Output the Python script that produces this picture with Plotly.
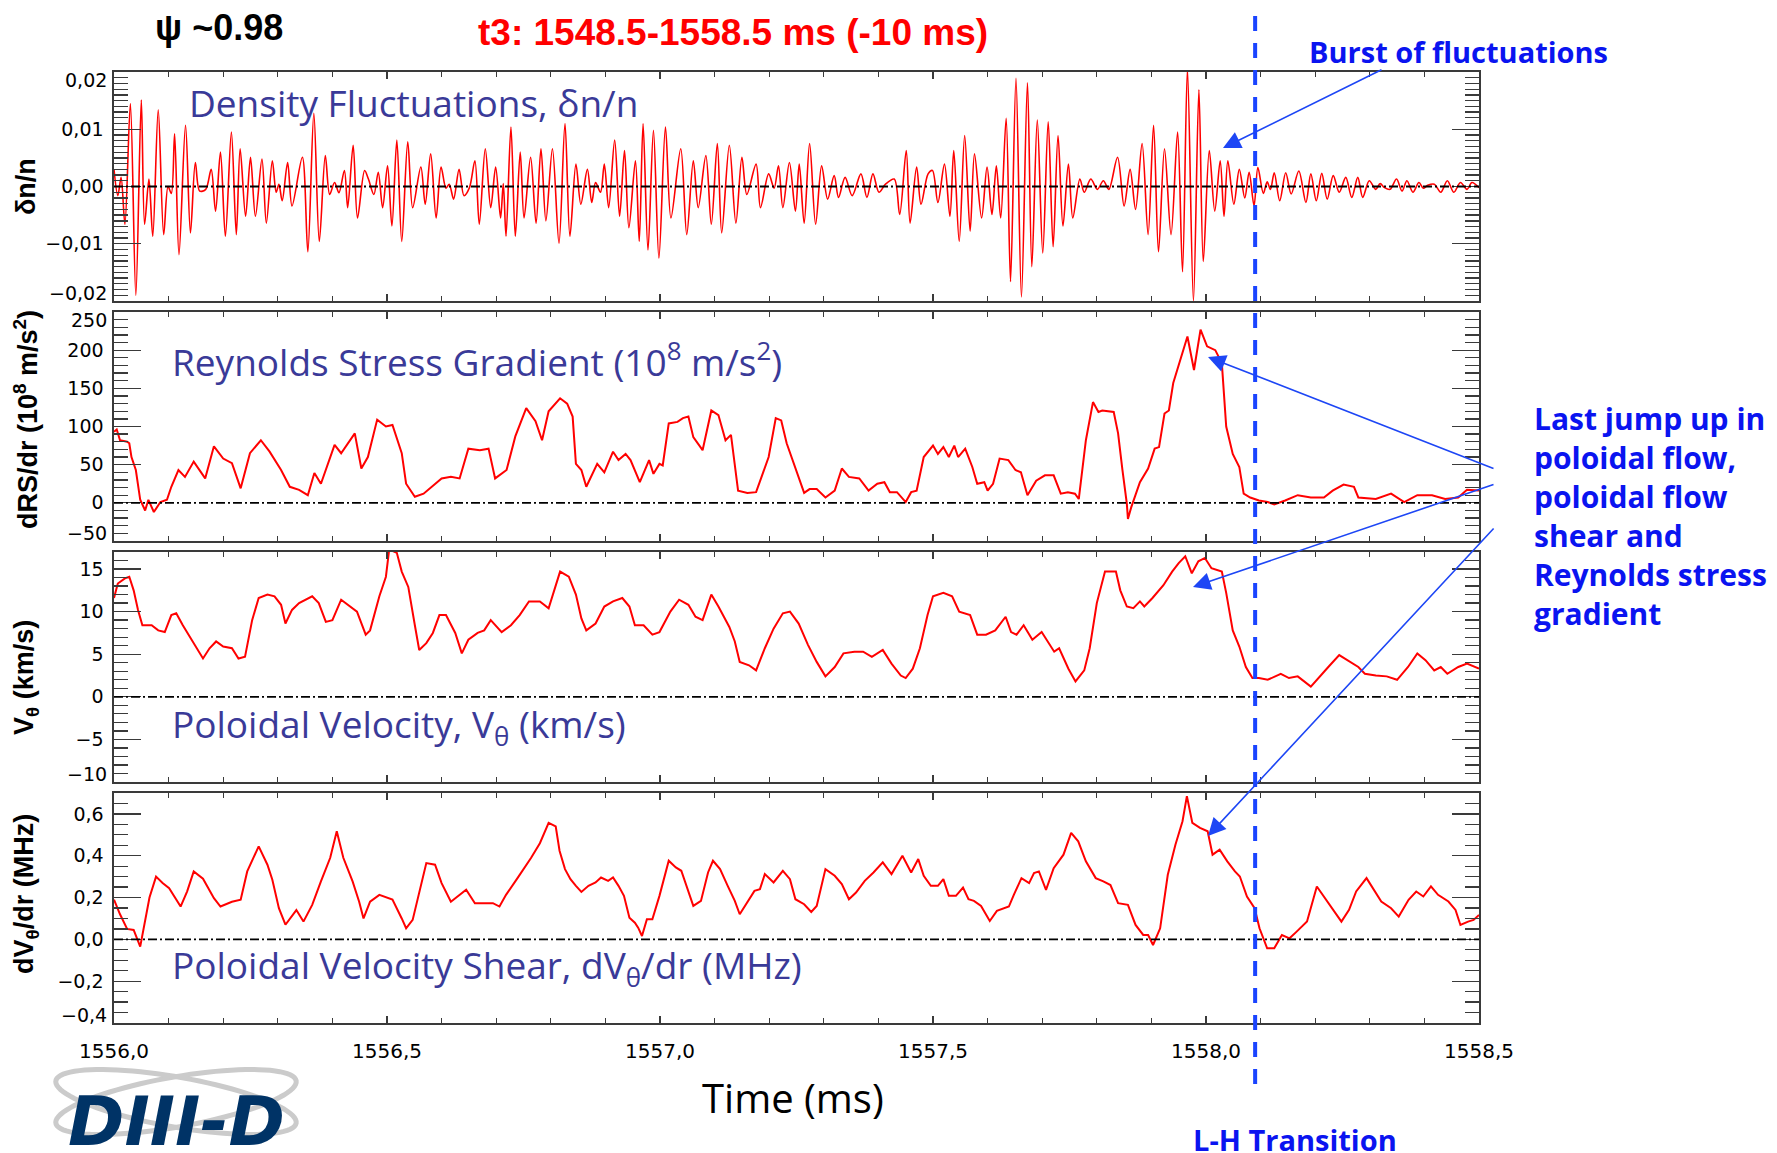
import numpy as np
import plotly.graph_objects as go

# ---------------------------------------------------------------- data
# Time axis (ms) and tick labels
T_START, T_END = 1556.0, 1558.5
X_TICKS = [1556.0, 1556.5, 1557.0, 1557.5, 1558.0, 1558.5]
X_LABELS = ["1556,0", "1556,5", "1557,0", "1557,5", "1558,0", "1558,5"]
LH_TIME = 1558.09  # L-H transition

# density fluctuations dn/n : (time ms, value) at the turning points of the signal
DN_SAMPLES = [
    (1556.000, 0.0030), (1556.007, -0.0016), (1556.013, 0.0016), (1556.020, -0.0066), (1556.030, 0.0145),
    (1556.040, -0.0190), (1556.050, 0.0151), (1556.056, -0.0066), (1556.064, 0.0013), (1556.071, -0.0087),
    (1556.081, 0.0134), (1556.091, -0.0084), (1556.099, 0.0000), (1556.105, -0.0012), (1556.111, 0.0092),
    (1556.119, -0.0119), (1556.131, 0.0107), (1556.140, -0.0081), (1556.149, 0.0042), (1556.157, -0.0008),
    (1556.168, -0.0005), (1556.178, 0.0030), (1556.186, -0.0043), (1556.195, 0.0060), (1556.204, -0.0087),
    (1556.215, 0.0095), (1556.224, -0.0084), (1556.231, 0.0066), (1556.241, -0.0052), (1556.250, 0.0051),
    (1556.259, -0.0052), (1556.271, 0.0048), (1556.279, -0.0064), (1556.290, 0.0045), (1556.297, -0.0010),
    (1556.302, 0.0004), (1556.308, -0.0025), (1556.318, 0.0042), (1556.326, -0.0034), (1556.345, 0.0051),
    (1556.355, -0.0114), (1556.366, 0.0128), (1556.376, -0.0096), (1556.387, 0.0054), (1556.395, -0.0014),
    (1556.404, 0.0007), (1556.412, -0.0011), (1556.422, 0.0028), (1556.428, -0.0037), (1556.438, 0.0072),
    (1556.446, -0.0055), (1556.459, 0.0028), (1556.466, 0.0013), (1556.476, -0.0014), (1556.484, 0.0025),
    (1556.492, -0.0037), (1556.501, 0.0036), (1556.509, -0.0069), (1556.518, 0.0081), (1556.527, -0.0096),
    (1556.538, 0.0078), (1556.547, -0.0037), (1556.562, 0.0034), (1556.570, -0.0031), (1556.580, 0.0057),
    (1556.590, -0.0055), (1556.599, 0.0034), (1556.608, -0.0003), (1556.614, 0.0004), (1556.622, -0.0022),
    (1556.632, 0.0030), (1556.641, -0.0016), (1556.651, -0.0002), (1556.661, 0.0045), (1556.669, -0.0066),
    (1556.680, 0.0066), (1556.690, -0.0037), (1556.699, 0.0034), (1556.708, -0.0055), (1556.713, 0.0005),
    (1556.718, -0.0087), (1556.727, 0.0104), (1556.735, -0.0087), (1556.744, 0.0060), (1556.751, -0.0055),
    (1556.763, 0.0051), (1556.773, -0.0064), (1556.782, 0.0066), (1556.791, -0.0060), (1556.803, 0.0066),
    (1556.815, -0.0099), (1556.826, 0.0110), (1556.835, -0.0087), (1556.846, 0.0039), (1556.855, -0.0031),
    (1556.867, 0.0030), (1556.875, -0.0028), (1556.882, 0.0007), (1556.891, -0.0010), (1556.898, 0.0039),
    (1556.906, -0.0037), (1556.917, 0.0081), (1556.926, -0.0052), (1556.935, 0.0063), (1556.943, -0.0072),
    (1556.955, 0.0045), (1556.962, -0.0096), (1556.969, 0.0110), (1556.978, -0.0111), (1556.988, 0.0098),
    (1556.998, -0.0125), (1557.010, 0.0104), (1557.020, -0.0055), (1557.038, 0.0066), (1557.049, -0.0084),
    (1557.061, 0.0045), (1557.070, -0.0037), (1557.084, 0.0054), (1557.094, -0.0066), (1557.105, 0.0075),
    (1557.113, -0.0081), (1557.127, 0.0072), (1557.139, -0.0064), (1557.150, 0.0051), (1557.159, -0.0014),
    (1557.176, 0.0039), (1557.184, -0.0037), (1557.199, 0.0022), (1557.209, -0.0003), (1557.217, 0.0036),
    (1557.225, -0.0037), (1557.237, 0.0042), (1557.248, -0.0043), (1557.255, 0.0039), (1557.264, -0.0064),
    (1557.274, 0.0075), (1557.285, -0.0066), (1557.296, 0.0036), (1557.307, -0.0022), (1557.319, 0.0019),
    (1557.327, -0.0019), (1557.339, 0.0016), (1557.352, -0.0016), (1557.368, 0.0022), (1557.379, -0.0019),
    (1557.390, 0.0022), (1557.401, -0.0010), (1557.413, 0.0004), (1557.429, 0.0013), (1557.439, -0.0049),
    (1557.451, 0.0063), (1557.458, -0.0064), (1557.470, 0.0034), (1557.478, -0.0031), (1557.491, 0.0022),
    (1557.499, 0.0028), (1557.509, -0.0028), (1557.521, 0.0039), (1557.531, -0.0052), (1557.538, 0.0063),
    (1557.548, -0.0096), (1557.558, 0.0089), (1557.568, -0.0078), (1557.576, 0.0057), (1557.589, -0.0055),
    (1557.599, 0.0034), (1557.608, -0.0049), (1557.616, 0.0036), (1557.624, -0.0055), (1557.634, 0.0119),
    (1557.642, -0.0166), (1557.652, 0.0189), (1557.662, -0.0193), (1557.673, 0.0181), (1557.681, -0.0140),
    (1557.691, 0.0116), (1557.701, -0.0116), (1557.711, 0.0113), (1557.720, -0.0105), (1557.729, 0.0089),
    (1557.738, -0.0069), (1557.748, 0.0039), (1557.756, -0.0055), (1557.769, 0.0013), (1557.777, -0.0010),
    (1557.789, 0.0013), (1557.801, -0.0005), (1557.812, 0.0010), (1557.822, -0.0005), (1557.838, 0.0051),
    (1557.850, -0.0034), (1557.861, 0.0030), (1557.871, -0.0040), (1557.883, 0.0075), (1557.894, -0.0084),
    (1557.904, 0.0107), (1557.913, -0.0114), (1557.924, 0.0066), (1557.936, -0.0084), (1557.948, 0.0095),
    (1557.957, -0.0149), (1557.966, 0.0205), (1557.977, -0.0200), (1557.987, 0.0169), (1557.995, -0.0131),
    (1558.006, 0.0063), (1558.016, -0.0043), (1558.026, 0.0045), (1558.033, -0.0052), (1558.040, 0.0045),
    (1558.051, -0.0031), (1558.061, 0.0030), (1558.071, -0.0020), (1558.079, 0.0025), (1558.088, -0.0034),
    (1558.095, 0.0033), (1558.105, -0.0012), (1558.112, 0.0008), (1558.118, -0.0005), (1558.125, 0.0024),
    (1558.135, -0.0025), (1558.146, 0.0024), (1558.156, -0.0013), (1558.170, 0.0027), (1558.183, -0.0028),
    (1558.192, 0.0022), (1558.202, -0.0025), (1558.212, 0.0023), (1558.222, -0.0022), (1558.233, 0.0019),
    (1558.244, -0.0010), (1558.256, 0.0016), (1558.267, -0.0019), (1558.278, 0.0016), (1558.287, -0.0019),
    (1558.299, 0.0010), (1558.311, -0.0005), (1558.319, 0.0005), (1558.327, -0.0002), (1558.337, -0.0005),
    (1558.349, 0.0013), (1558.359, -0.0008), (1558.368, 0.0010), (1558.379, -0.0010), (1558.390, 0.0007),
    (1558.398, -0.0003), (1558.406, 0.0002), (1558.418, 0.0004), (1558.430, -0.0010), (1558.442, 0.0010),
    (1558.454, -0.0010), (1558.466, 0.0007), (1558.478, -0.0005), (1558.487, 0.0007), (1558.500, -0.0002),
]

# Reynolds stress gradient dRS/dr (1e8 m/s^2)
RS_SAMPLES = [
    (1556.000, 93), (1556.005, 96), (1556.011, 82), (1556.024, 80), (1556.028, 78), (1556.032, 60),
    (1556.040, 43), (1556.048, 4), (1556.057, -10), (1556.063, 4), (1556.073, -12), (1556.085, 1),
    (1556.097, 4), (1556.105, 21), (1556.118, 43), (1556.130, 34), (1556.146, 54), (1556.167, 32),
    (1556.183, 74), (1556.200, 58), (1556.216, 52), (1556.232, 19), (1556.249, 65), (1556.269, 82),
    (1556.285, 67), (1556.306, 43), (1556.322, 21), (1556.339, 17), (1556.355, 10), (1556.367, 39),
    (1556.379, 25), (1556.404, 76), (1556.416, 65), (1556.441, 91), (1556.453, 45), (1556.465, 60),
    (1556.482, 109), (1556.498, 100), (1556.510, 102), (1556.527, 65), (1556.535, 25), (1556.551, 8),
    (1556.567, 12), (1556.588, 25), (1556.600, 32), (1556.617, 34), (1556.633, 32), (1556.649, 71),
    (1556.670, 69), (1556.686, 71), (1556.698, 32), (1556.719, 43), (1556.735, 87), (1556.755, 124),
    (1556.772, 107), (1556.784, 82), (1556.796, 120), (1556.817, 137), (1556.830, 130), (1556.840, 113),
    (1556.846, 51), (1556.856, 43), (1556.865, 21), (1556.885, 51), (1556.898, 40), (1556.914, 67),
    (1556.924, 56), (1556.937, 64), (1556.946, 56), (1556.963, 27), (1556.980, 56), (1556.988, 38),
    (1556.999, 51), (1557.005, 49), (1557.016, 104), (1557.032, 106), (1557.042, 111), (1557.052, 113),
    (1557.061, 86), (1557.078, 69), (1557.094, 121), (1557.107, 115), (1557.120, 82), (1557.130, 89),
    (1557.143, 16), (1557.160, 13), (1557.176, 14), (1557.186, 34), (1557.199, 60), (1557.212, 111),
    (1557.222, 108), (1557.232, 78), (1557.244, 54), (1557.258, 27), (1557.264, 13), (1557.274, 18),
    (1557.287, 18), (1557.303, 7), (1557.320, 16), (1557.333, 45), (1557.346, 34), (1557.365, 32),
    (1557.382, 16), (1557.398, 25), (1557.411, 27), (1557.421, 14), (1557.434, 14), (1557.450, 1),
    (1557.460, 14), (1557.470, 16), (1557.483, 60), (1557.500, 75), (1557.509, 64), (1557.519, 73),
    (1557.529, 60), (1557.539, 75), (1557.546, 60), (1557.559, 71), (1557.572, 47), (1557.581, 25),
    (1557.594, 27), (1557.600, 16), (1557.610, 25), (1557.622, 58), (1557.638, 56), (1557.651, 43),
    (1557.661, 40), (1557.673, 10), (1557.689, 29), (1557.705, 36), (1557.721, 36), (1557.734, 12),
    (1557.747, 14), (1557.760, 12), (1557.767, 5), (1557.780, 82), (1557.793, 132), (1557.803, 119),
    (1557.810, 121), (1557.831, 119), (1557.839, 91), (1557.847, 43), (1557.855, -1), (1557.857, -21),
    (1557.863, -6), (1557.879, 27), (1557.894, 45), (1557.906, 71), (1557.914, 73), (1557.924, 117),
    (1557.932, 121), (1557.940, 157), (1557.954, 189), (1557.966, 218), (1557.978, 174), (1557.990, 227),
    (1558.002, 205), (1558.017, 200), (1558.029, 183), (1558.037, 100), (1558.049, 64), (1558.061, 47),
    (1558.069, 12), (1558.081, 7), (1558.097, 3), (1558.113, 1), (1558.125, -2), (1558.145, 3),
    (1558.168, 10), (1558.192, 7), (1558.216, 7), (1558.232, 16), (1558.252, 24), (1558.271, 21),
    (1558.279, 7), (1558.311, 5), (1558.339, 12), (1558.363, 1), (1558.387, 10), (1558.414, 10),
    (1558.438, 5), (1558.462, 7), (1558.478, 17), (1558.500, 16),
]

# poloidal velocity V_theta (km/s)
VP_SAMPLES = [
    (1556.000, 11.6), (1556.007, 13.3), (1556.020, 13.9), (1556.028, 14.1), (1556.036, 12.5), (1556.044, 10.2),
    (1556.052, 8.4), (1556.069, 8.4), (1556.081, 7.8), (1556.093, 7.6), (1556.105, 9.6), (1556.114, 9.8),
    (1556.126, 8.4), (1556.142, 6.7), (1556.163, 4.5), (1556.175, 5.7), (1556.187, 6.5), (1556.200, 5.9),
    (1556.216, 5.7), (1556.228, 4.5), (1556.240, 4.7), (1556.253, 9.0), (1556.265, 11.6), (1556.281, 12.0),
    (1556.294, 11.8), (1556.306, 10.8), (1556.314, 8.6), (1556.326, 10.2), (1556.339, 11.0), (1556.363, 11.8),
    (1556.375, 11.0), (1556.388, 8.8), (1556.400, 9.0), (1556.416, 11.4), (1556.437, 10.4), (1556.445, 10.0),
    (1556.461, 7.3), (1556.469, 7.8), (1556.486, 11.8), (1556.498, 14.1), (1556.504, 17.3), (1556.518, 16.9),
    (1556.527, 14.7), (1556.539, 12.9), (1556.551, 8.4), (1556.559, 5.5), (1556.572, 6.3), (1556.584, 7.5),
    (1556.596, 9.6), (1556.608, 9.6), (1556.625, 7.5), (1556.637, 5.1), (1556.649, 6.7), (1556.666, 7.5),
    (1556.678, 7.8), (1556.690, 9.0), (1556.710, 7.6), (1556.727, 8.4), (1556.743, 9.6), (1556.760, 11.2),
    (1556.780, 11.2), (1556.796, 10.4), (1556.817, 14.7), (1556.833, 14.1), (1556.846, 12.0), (1556.856, 9.2),
    (1556.865, 7.8), (1556.882, 8.6), (1556.898, 10.6), (1556.914, 11.2), (1556.931, 11.6), (1556.944, 10.6),
    (1556.954, 8.4), (1556.970, 8.4), (1556.986, 7.3), (1556.999, 7.6), (1557.019, 10.0), (1557.035, 11.4),
    (1557.052, 10.8), (1557.065, 9.4), (1557.078, 9.0), (1557.094, 12.0), (1557.107, 10.6), (1557.127, 8.2),
    (1557.137, 6.5), (1557.146, 4.1), (1557.163, 3.7), (1557.176, 3.1), (1557.192, 5.7), (1557.208, 8.0),
    (1557.225, 9.8), (1557.238, 10.0), (1557.254, 8.6), (1557.271, 6.1), (1557.287, 4.1), (1557.303, 2.4),
    (1557.320, 3.5), (1557.336, 5.1), (1557.356, 5.3), (1557.372, 5.3), (1557.388, 4.7), (1557.408, 5.5),
    (1557.424, 3.9), (1557.441, 2.5), (1557.450, 2.2), (1557.463, 3.3), (1557.476, 5.7), (1557.490, 9.6),
    (1557.500, 11.8), (1557.519, 12.2), (1557.535, 11.8), (1557.548, 10.0), (1557.568, 9.6), (1557.581, 7.3),
    (1557.597, 7.3), (1557.614, 7.8), (1557.633, 9.4), (1557.643, 7.6), (1557.653, 7.3), (1557.666, 8.4),
    (1557.682, 6.7), (1557.699, 7.6), (1557.722, 5.3), (1557.731, 5.7), (1557.748, 3.3), (1557.761, 1.8),
    (1557.777, 3.1), (1557.787, 5.7), (1557.800, 11.0), (1557.815, 14.7), (1557.835, 14.7), (1557.843, 12.5),
    (1557.855, 10.6), (1557.867, 10.4), (1557.879, 11.2), (1557.887, 10.6), (1557.902, 11.6), (1557.922, 13.1),
    (1557.938, 14.7), (1557.950, 15.7), (1557.962, 16.5), (1557.974, 14.5), (1557.986, 15.9), (1557.998, 16.3),
    (1558.010, 15.1), (1558.029, 14.7), (1558.037, 12.2), (1558.049, 7.8), (1558.061, 5.9), (1558.073, 3.5),
    (1558.085, 2.2), (1558.097, 2.2), (1558.113, 2.0), (1558.137, 2.7), (1558.152, 2.2), (1558.168, 2.4),
    (1558.192, 1.2), (1558.208, 2.4), (1558.224, 3.5), (1558.244, 4.9), (1558.263, 4.1), (1558.279, 3.5),
    (1558.291, 2.7), (1558.311, 2.5), (1558.331, 2.4), (1558.350, 2.0), (1558.370, 3.5), (1558.387, 5.1),
    (1558.402, 4.3), (1558.418, 3.1), (1558.430, 3.5), (1558.442, 2.7), (1558.462, 3.5), (1558.478, 3.9),
    (1558.500, 3.3),
]

# poloidal velocity shear dV_theta/dr (MHz)
SH_SAMPLES = [
    (1556.000, 0.190), (1556.011, 0.120), (1556.024, 0.050), (1556.036, 0.045), (1556.048, -0.035),
    (1556.057, 0.085), (1556.065, 0.200), (1556.077, 0.300), (1556.089, 0.270), (1556.101, 0.245),
    (1556.114, 0.190), (1556.122, 0.157), (1556.134, 0.230), (1556.146, 0.325), (1556.163, 0.290),
    (1556.183, 0.197), (1556.195, 0.157), (1556.216, 0.180), (1556.232, 0.190), (1556.244, 0.325),
    (1556.265, 0.445), (1556.281, 0.357), (1556.290, 0.285), (1556.302, 0.149), (1556.314, 0.070),
    (1556.334, 0.140), (1556.347, 0.085), (1556.363, 0.165), (1556.379, 0.277), (1556.396, 0.390),
    (1556.408, 0.517), (1556.420, 0.390), (1556.437, 0.277), (1556.449, 0.180), (1556.457, 0.100),
    (1556.469, 0.180), (1556.486, 0.213), (1556.510, 0.190), (1556.527, 0.100), (1556.535, 0.053),
    (1556.547, 0.093), (1556.559, 0.229), (1556.572, 0.365), (1556.588, 0.357), (1556.600, 0.269),
    (1556.617, 0.180), (1556.629, 0.205), (1556.645, 0.237), (1556.661, 0.173), (1556.682, 0.173),
    (1556.694, 0.173), (1556.706, 0.157), (1556.718, 0.213), (1556.739, 0.293), (1556.764, 0.390),
    (1556.780, 0.460), (1556.796, 0.557), (1556.809, 0.540), (1556.816, 0.424), (1556.826, 0.336),
    (1556.836, 0.288), (1556.846, 0.256), (1556.856, 0.227), (1556.869, 0.256), (1556.882, 0.272),
    (1556.892, 0.296), (1556.905, 0.280), (1556.914, 0.296), (1556.924, 0.256), (1556.934, 0.208),
    (1556.944, 0.104), (1556.954, 0.080), (1556.960, 0.056), (1556.967, 0.016), (1556.976, 0.096),
    (1556.986, 0.096), (1556.999, 0.208), (1557.016, 0.376), (1557.029, 0.344), (1557.039, 0.328),
    (1557.049, 0.256), (1557.061, 0.160), (1557.075, 0.184), (1557.088, 0.320), (1557.097, 0.376),
    (1557.110, 0.336), (1557.124, 0.256), (1557.137, 0.184), (1557.146, 0.120), (1557.159, 0.176),
    (1557.173, 0.232), (1557.183, 0.240), (1557.192, 0.312), (1557.208, 0.272), (1557.225, 0.328),
    (1557.238, 0.288), (1557.248, 0.192), (1557.264, 0.168), (1557.277, 0.131), (1557.287, 0.160),
    (1557.303, 0.336), (1557.320, 0.304), (1557.333, 0.264), (1557.346, 0.192), (1557.359, 0.224),
    (1557.375, 0.280), (1557.391, 0.320), (1557.408, 0.368), (1557.424, 0.312), (1557.444, 0.400),
    (1557.460, 0.320), (1557.473, 0.384), (1557.483, 0.304), (1557.496, 0.256), (1557.509, 0.256),
    (1557.519, 0.288), (1557.529, 0.208), (1557.542, 0.208), (1557.555, 0.248), (1557.565, 0.192),
    (1557.575, 0.184), (1557.588, 0.160), (1557.604, 0.088), (1557.617, 0.136), (1557.639, 0.157),
    (1557.648, 0.213), (1557.662, 0.293), (1557.676, 0.269), (1557.685, 0.317), (1557.694, 0.325),
    (1557.707, 0.237), (1557.721, 0.340), (1557.739, 0.405), (1557.753, 0.509), (1557.766, 0.469),
    (1557.780, 0.373), (1557.798, 0.293), (1557.812, 0.277), (1557.825, 0.260), (1557.839, 0.173),
    (1557.857, 0.165), (1557.871, 0.069), (1557.885, 0.021), (1557.894, 0.021), (1557.903, -0.027),
    (1557.916, 0.053), (1557.930, 0.309), (1557.944, 0.453), (1557.957, 0.565), (1557.965, 0.685),
    (1557.975, 0.557), (1557.989, 0.533), (1558.003, 0.517), (1558.012, 0.405), (1558.025, 0.429),
    (1558.039, 0.373), (1558.053, 0.325), (1558.062, 0.301), (1558.075, 0.205), (1558.089, 0.149),
    (1558.098, 0.053), (1558.112, -0.043), (1558.125, -0.043), (1558.139, 0.021), (1558.153, 0.005),
    (1558.166, 0.037), (1558.185, 0.085), (1558.203, 0.253), (1558.216, 0.205), (1558.230, 0.157),
    (1558.248, 0.085), (1558.262, 0.141), (1558.275, 0.229), (1558.294, 0.293), (1558.307, 0.237),
    (1558.321, 0.181), (1558.339, 0.149), (1558.353, 0.109), (1558.371, 0.189), (1558.385, 0.229),
    (1558.398, 0.205), (1558.412, 0.253), (1558.425, 0.213), (1558.444, 0.181), (1558.457, 0.141),
    (1558.466, 0.069), (1558.480, 0.085), (1558.490, 0.093), (1558.500, 0.117),
]

# y-axis ranges, major tick values/labels and minor tick spacing per panel
Y_RANGES = [[-0.02, 0.02], [-50, 250], [-10, 17], [-0.4, 0.7]]
Y_TICKS = [
    [-0.02, -0.01, 0.0, 0.01, 0.02],
    [-50, 0, 50, 100, 150, 200, 250],
    [-10, -5, 0, 5, 10, 15],
    [-0.4, -0.2, 0.0, 0.2, 0.4, 0.6],
]
Y_LABELS = [
    ["\u22120,02", "\u22120,01", "0,00", "0,01", "0,02"],
    ["\u221250", "0", "50", "100", "150", "200", "250"],
    ["\u221210", "\u22125", "0", "5", "10", "15"],
    ["\u22120,4", "\u22120,2", "0,0", "0,2", "0,4", "0,6"],
]
Y_MINOR = [0.001, 10, 1, 0.05]
Y_TITLES = [
    "<b>\u03b4n/n</b>",
    "<b>dRS/dr (10<sup>8</sup> m/s<sup>2</sup>)</b>",
    "<b>V<sub>\u03b8</sub> (km/s)</b>",
    "<b>dV<sub>\u03b8</sub>/dr (MHz)</b>",
]
PANEL_LABELS = [
    "Density Fluctuations, \u03b4n/n",
    "Reynolds Stress Gradient (10<sup>8</sup> m/s<sup>2</sup>)",
    "Poloidal Velocity, V<sub>\u03b8</sub> (km/s)",
    "Poloidal Velocity Shear, dV<sub>\u03b8</sub>/dr (MHz)",
]

# ---------------------------------------------------------------- geometry (pixels)
W, H = 1777, 1153
PLOT_L, PLOT_R, PLOT_T, PLOT_B = 114, 1479, 72, 1023
PLOT_W, PLOT_H = PLOT_R - PLOT_L, PLOT_B - PLOT_T
PANEL_PX = [(72, 301), (312, 541), (552, 782), (793, 1023)]   # top, bottom of each panel


def px2paper(px, py):
    return (px - PLOT_L) / PLOT_W, (PLOT_B - py) / PLOT_H


FRAME = "#3a3a3a"
RED = "#ff0000"
LABEL_BLUE = "#3a3a98"
NOTE_BLUE = "#0a14f0"
ARROW_BLUE = "#1d46f5"
TICK_FONT = dict(family="DejaVu Sans, Liberation Sans, sans-serif", size=19, color="black")
GOTHIC = "'Open Sans', Lato, 'DejaVu Sans', sans-serif"
BOLD_SANS = "'Liberation Sans', Arial, sans-serif"

fig = go.Figure()

series = [DN_SAMPLES, RS_SAMPLES, VP_SAMPLES, SH_SAMPLES]
widths = [1.6, 2.0, 2.0, 2.0]
for i, (samples, w) in enumerate(zip(series, widths), start=1):
    sfx = "" if i == 1 else str(i)
    line = dict(color=RED, width=w)
    if i == 1:
        line.update(shape="spline", smoothing=0.9)
    fig.add_trace(go.Scatter(
        x=[p[0] for p in samples], y=[p[1] for p in samples],
        mode="lines", line=line,
        xaxis="x" + sfx, yaxis="y" + sfx, showlegend=False, hoverinfo="skip",
    ))

layout = dict(
    width=W, height=H,
    margin=dict(l=PLOT_L, r=W - PLOT_R, t=PLOT_T, b=H - PLOT_B, pad=0),
    paper_bgcolor="white", plot_bgcolor="white",
    showlegend=False,
    font=dict(family="DejaVu Sans, sans-serif", color="black"),
)

ann = []
for i in range(1, 5):
    sfx = "" if i == 1 else str(i)
    top, bot = PANEL_PX[i - 1]
    dom = [round((PLOT_B - bot) / PLOT_H, 5), round((PLOT_B - top) / PLOT_H, 5)]
    lo, hi = Y_RANGES[i - 1]
    # labels sitting on the frame edge are tucked inside the box
    tick_text = []
    for v, t in zip(Y_TICKS[i - 1], Y_LABELS[i - 1]):
        if v == lo or v == hi:
            tick_text.append("")
            ann.append(dict(text=t, xref="paper", x=0, xanchor="right", xshift=-5,
                            yref="y" + sfx, y=v, yanchor="middle", yshift=(-8 if v == hi else 8),
                            showarrow=False, font=TICK_FONT))
        else:
            tick_text.append(t)
    xa = dict(
        range=[T_START, T_END], domain=[0, 1], anchor="y" + sfx,
        showline=True, linecolor=FRAME, linewidth=1.6, mirror="allticks",
        ticks="inside", ticklen=7, tickwidth=1.3, tickcolor=FRAME,
        tickvals=X_TICKS, ticktext=X_LABELS, showticklabels=(i == 4),
        tickfont=dict(family=TICK_FONT["family"], size=20, color="black"),
        ticklabelstandoff=9,
        minor=dict(tick0=T_START, dtick=0.1, ticks="inside", ticklen=5,
                   tickwidth=1.3, tickcolor=FRAME, showgrid=False),
        showgrid=False, zeroline=False, fixedrange=True,
    )
    if i > 1:
        xa["matches"] = "x"
    ya = dict(
        range=Y_RANGES[i - 1], domain=dom, anchor="x" + sfx,
        showline=True, linecolor=FRAME, linewidth=1.6, mirror="allticks",
        ticks="inside", ticklen=27, tickwidth=1.3, tickcolor=FRAME,
        tickvals=Y_TICKS[i - 1], ticktext=tick_text, tickfont=TICK_FONT,
        ticklabelstandoff=5,
        minor=dict(tick0=0, dtick=Y_MINOR[i - 1], ticks="inside", ticklen=14,
                   tickwidth=1.3, tickcolor=FRAME, showgrid=False),
        showgrid=False, zeroline=False, fixedrange=True,
    )
    layout["xaxis" + sfx] = xa
    layout["yaxis" + sfx] = ya

fig.update_layout(**layout)

shapes = []
# dash-dot zero reference in every panel
for i in range(1, 5):
    sfx = "" if i == 1 else str(i)
    shapes.append(dict(
        type="line", xref="x" + sfx + " domain", yref="y" + sfx,
        x0=0, x1=1, y0=0, y1=0,
        line=dict(color="black", width=1.8, dash="9px,3px,2px,3px"), layer="above",
    ))

# L-H transition marker running through all panels
shapes.append(dict(
    type="line", xref="x", yref="paper", x0=LH_TIME, x1=LH_TIME,
    y0=px2paper(0, 1084)[1], y1=px2paper(0, 5)[1],
    line=dict(color="#1a44ff", width=4, dash="15px,12px"), layer="above",
))


# DIII-D logo orbits
def orbit_path(cx, cy, a, b, ang):
    th = np.linspace(0, 2 * np.pi, 90)
    ca, sa = np.cos(np.radians(ang)), np.sin(np.radians(ang))
    pts = []
    for t in th:
        ex, ey = a * np.cos(t), b * np.sin(t)
        pts.append(px2paper(cx + ex * ca - ey * sa, cy + ex * sa + ey * ca))
    return "M " + " L ".join(f"{x:.5f},{y:.5f}" for x, y in pts) + " Z"


for ang in (-10, 10):
    shapes.append(dict(
        type="path", xref="paper", yref="paper", path=orbit_path(176, 1102, 122, 25, ang),
        line=dict(color="#cbcbcb", width=5), fillcolor="rgba(0,0,0,0)", layer="above",
    ))

fig.update_layout(shapes=shapes)

# panel labels inside plots
label_pos = [(187, 102), (170, 359), (170, 726), (170, 967)]
for text, (px, py) in zip(PANEL_LABELS, label_pos):
    x, y = px2paper(px, py)
    ann.append(dict(text=text, x=x, y=y, xref="paper", yref="paper", xanchor="left", yanchor="middle",
                    showarrow=False, font=dict(family=GOTHIC, size=37, color=LABEL_BLUE)))

# y-axis titles
title_y = [186, 419, 677, 894]
for text, py in zip(Y_TITLES, title_y):
    x, y = px2paper(26, py)
    ann.append(dict(text=text, x=x, y=y, xref="paper", yref="paper", xanchor="center", yanchor="middle",
                    textangle=-90, showarrow=False, font=dict(family=BOLD_SANS, size=27, color="black")))

# headers
x, y = px2paper(219, 27)
ann.append(dict(text="<b>\u03c8 ~0.98</b>", x=x, y=y, xref="paper", yref="paper", showarrow=False,
                xanchor="center", yanchor="middle", font=dict(family=BOLD_SANS, size=36, color="black")))
x, y = px2paper(733, 32)
ann.append(dict(text="<b>t3: 1548.5-1558.5 ms (-10 ms)</b>", x=x, y=y, xref="paper", yref="paper",
                showarrow=False, xanchor="center", yanchor="middle",
                font=dict(family=BOLD_SANS, size=37, color="#ff0000")))

# x-axis title
x, y = px2paper(793, 1097)
ann.append(dict(text="Time (ms)", x=x, y=y, xref="paper", yref="paper", showarrow=False,
                xanchor="center", yanchor="middle", font=dict(family=GOTHIC, size=40, color="black")))

# notes
x, y = px2paper(1307, 52)
ann.append(dict(text="<b>Burst of fluctuations</b>", x=x, y=y, xref="paper", yref="paper", showarrow=False,
                xanchor="left", yanchor="middle", font=dict(family=GOTHIC, size=29, color=NOTE_BLUE)))
x, y = px2paper(1532, 516)
ann.append(dict(text="<b>Last jump up in<br>poloidal flow,<br>poloidal flow<br>shear and<br>Reynolds stress<br>gradient</b>",
                x=x, y=y, xref="paper", yref="paper", showarrow=False, align="left",
                xanchor="left", yanchor="middle", font=dict(family=GOTHIC, size=30, color=NOTE_BLUE)))
x, y = px2paper(1295, 1139)
ann.append(dict(text="<b>L-H Transition</b>", x=x, y=y, xref="paper", yref="paper", showarrow=False,
                xanchor="center", yanchor="middle", font=dict(family=GOTHIC, size=29, color=NOTE_BLUE)))

# arrows: (tip px, tail px)
arrows = [((1223, 148), (1383, 69)),
          ((1208, 357), (1495, 469)),
          ((1193, 587), (1495, 484)),
          ((1208, 836), (1495, 527))]
for (tx, ty), (sx, sy) in arrows:
    x, y = px2paper(tx, ty)
    ann.append(dict(text="", x=x, y=y, xref="paper", yref="paper", ax=sx - tx, ay=sy - ty,
                    showarrow=True, arrowhead=2, arrowsize=2.2, arrowwidth=1.6,
                    arrowcolor=ARROW_BLUE, standoff=0, startstandoff=0))

# logo lettering
x, y = px2paper(176, 1121)
ann.append(dict(text="<b><i>DIII-D</i></b>", x=x, y=y, xref="paper", yref="paper", showarrow=False,
                xanchor="center", yanchor="middle",
                font=dict(family="'DejaVu Sans', sans-serif", size=68, color="#003366")))

fig.update_layout(annotations=ann)

fig.write_html("out.html", config={"displayModeBar": False, "staticPlot": True})
